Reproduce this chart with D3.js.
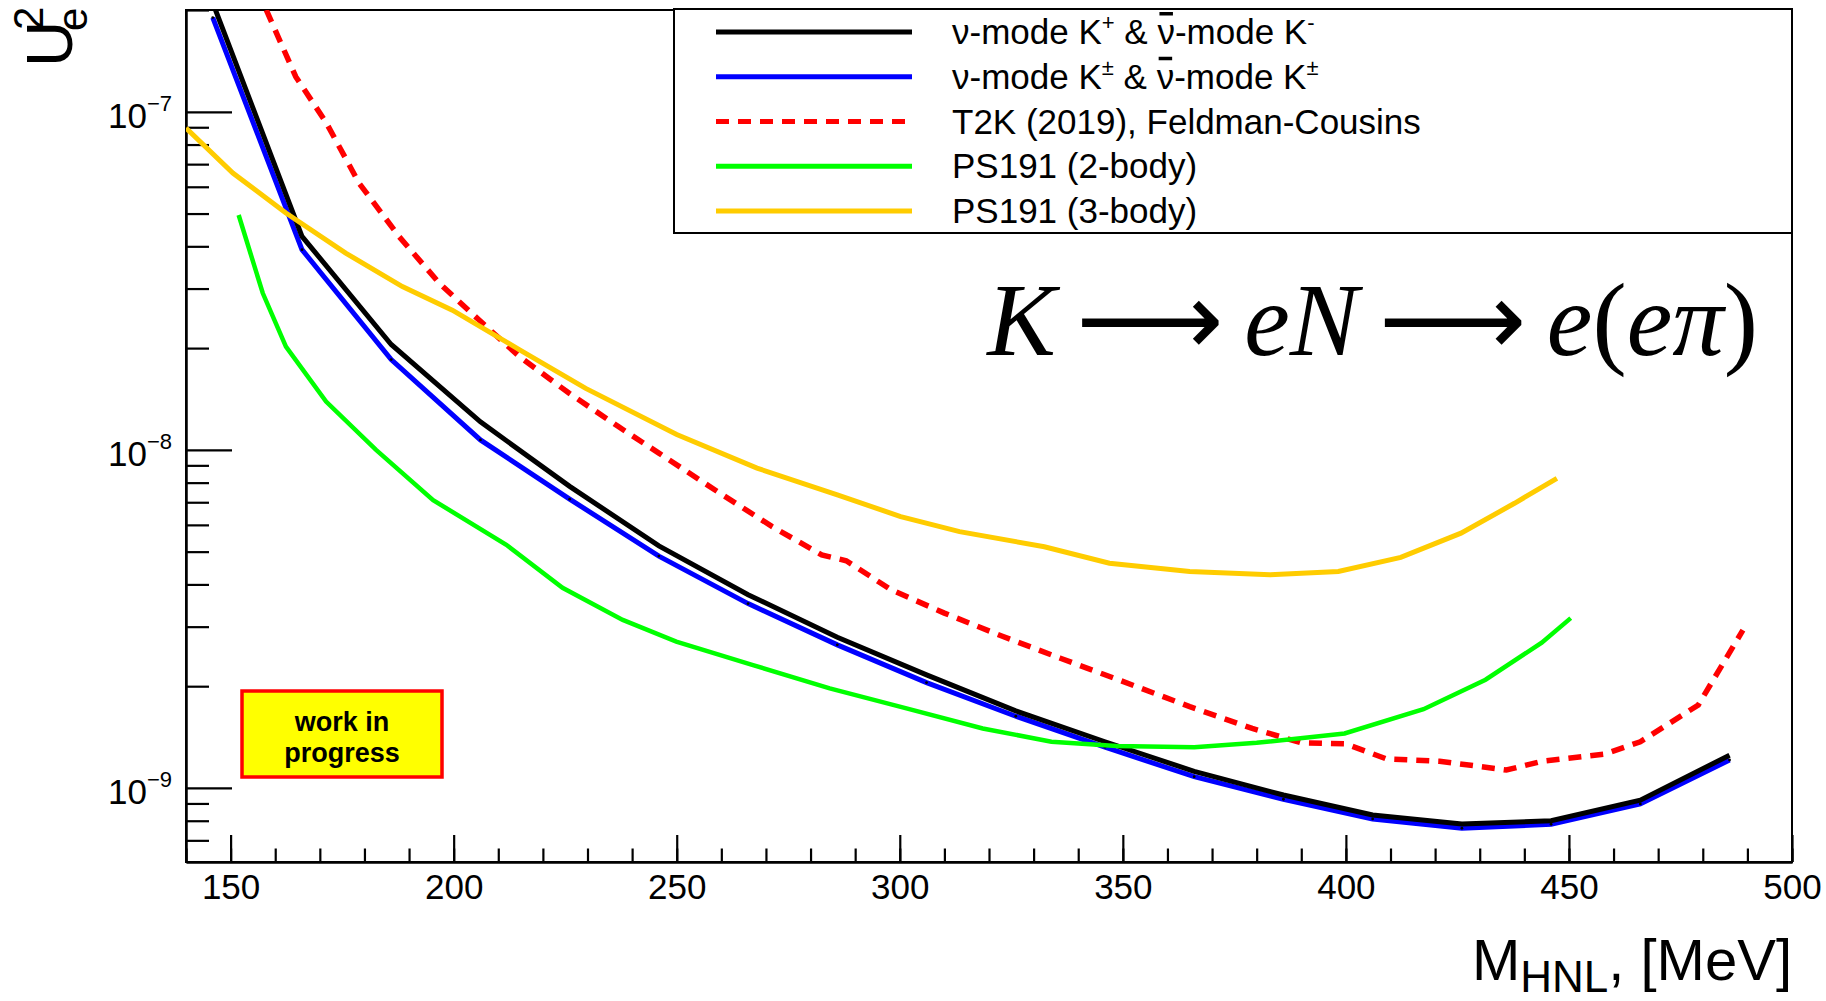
<!DOCTYPE html>
<html><head><meta charset="utf-8">
<script src="https://cdn.jsdelivr.net/npm/d3@7"></script>
<style>
body{margin:0;background:#fff}
svg{display:block}
text{font-family:"Liberation Sans",Arial,Helvetica,sans-serif;fill:#000}
</style>
</head><body>
<svg id="chart" width="1826" height="1001"></svg>
<script>
// ---------- data ----------
const massKaon = [146,166,186,206,226,246,266,286,306,326,346,366,386,406,426,446,466,486];
const limitKplusKminus = [2.1e-7,4.28e-8,2.05e-8,1.21e-8,7.8e-9,5.2e-9,3.73e-9,2.79e-9,2.16e-9,1.69e-9,1.37e-9,1.12e-9,9.53e-10,8.32e-10,7.82e-10,8.0e-10,9.2e-10,1.25e-9];
const limitKpmBoth     = [1.9e-7,3.91e-8,1.85e-8,1.07e-8,7.15e-9,4.85e-9,3.51e-9,2.65e-9,2.05e-9,1.63e-9,1.32e-9,1.08e-9,9.26e-10,8.1e-10,7.6e-10,7.81e-10,8.97e-10,1.21e-9];

const massT2K  = [158,164.6,171.4,178.8,187.8,196.8,205.7,214.7,225.9,237,246,258.5,271.4,282.5,288,298,310,323,336,349,365,379,390,400,409,421,436,444,458,466,479,489];
const limitT2K = [2.0e-7,1.27e-7,9.3e-8,6.15e-8,4.27e-8,3.11e-8,2.42e-8,1.89e-8,1.47e-8,1.17e-8,9.78e-9,7.62e-9,5.93e-9,4.89e-9,4.7e-9,3.86e-9,3.29e-9,2.81e-9,2.42e-9,2.09e-9,1.74e-9,1.5e-9,1.36e-9,1.35e-9,1.22e-9,1.2e-9,1.13e-9,1.2e-9,1.26e-9,1.37e-9,1.76e-9,2.93e-9];

const massPS191two  = [151.8,157.2,162.4,171.4,182.6,195.4,211.8,224.4,237.9,249.9,267.1,284.3,301.5,318.6,334,348.6,366,380,399.7,417.4,431.3,443.9,450.4];
const limitPS191two = [4.95e-8,2.91e-8,2.02e-8,1.39e-8,1.0e-8,7.1e-9,5.24e-9,3.91e-9,3.14e-9,2.71e-9,2.31e-9,1.97e-9,1.72e-9,1.5e-9,1.37e-9,1.33e-9,1.32e-9,1.36e-9,1.45e-9,1.71e-9,2.09e-9,2.69e-9,3.18e-9];

const massPS191three  = [140,150.5,162.4,175.8,188.5,199.7,214.7,229.6,250,268,286,300.2,313.4,332.4,347,365,383,398.3,412.3,425.8,437.8,447.3];
const limitPS191three = [8.95e-8,6.59e-8,5.02e-8,3.82e-8,3.04e-8,2.59e-8,1.98e-8,1.52e-8,1.11e-8,8.83e-9,7.36e-9,6.35e-9,5.73e-9,5.17e-9,4.62e-9,4.37e-9,4.27e-9,4.37e-9,4.81e-9,5.67e-9,6.95e-9,8.24e-9];

const xTickLabels = [150,200,250,300,350,400,450,500];
const xMinorTicks = [140,150,160,170,180,190,200,210,220,230,240,250,260,270,280,290,300,310,320,330,340,350,360,370,380,390,400,410,420,430,440,450,460,470,480,490,500];
const yMajorExponents = [-7,-8,-9];
const yMinorMantissas = [2,3,4,5,6,7,8,9];

const legendEntries = [
  {color:"#000000", dash:null, parts:[["ν-mode K"],["+","sup"],[" & "],["ν","bar"],["-mode K"],["-","sup"]]},
  {color:"#0000ff", dash:null, parts:[["ν-mode K"],["±","sup"],[" & "],["ν","bar"],["-mode K"],["±","sup"]]},
  {color:"#ff0000", dash:"13,9", parts:[["T2K (2019), Feldman-Cousins"]]},
  {color:"#00ff00", dash:null, parts:[["PS191 (2-body)"]]},
  {color:"#ffcc00", dash:null, parts:[["PS191 (3-body)"]]}
];

// ---------- layout ----------
const svg = d3.select("#chart");
const P = {left:186, right:1792, top:10, bottom:862};
const x = d3.scaleLinear().domain([140,500]).range([P.left,P.right]);
const y = d3.scaleLog().domain([6.04e-10,2.0e-7]).range([P.bottom,P.top]);

svg.append("rect").attr("width",1826).attr("height",1001).attr("fill","#fff");

svg.append("defs").append("clipPath").attr("id","plotclip")
  .append("rect").attr("x",P.left).attr("y",P.top).attr("width",P.right-P.left).attr("height",P.bottom-P.top);

// axes
function styleAxis(g){
  g.selectAll("path.domain").attr("stroke","#000").attr("stroke-width",2);
  g.selectAll(".tick line").attr("stroke","#000").attr("stroke-width",2.2);
}
const gxMinor = svg.append("g").attr("transform",`translate(0,${P.bottom})`)
  .call(d3.axisBottom(x).tickValues(xMinorTicks).tickSize(-13.5).tickSizeOuter(0).tickFormat(""));
styleAxis(gxMinor);
const gx = svg.append("g").attr("transform",`translate(0,${P.bottom})`)
  .call(d3.axisBottom(x).tickValues(xTickLabels).tickSize(-27).tickSizeOuter(0).tickPadding(12).tickFormat(d3.format("d")));
styleAxis(gx);
gx.selectAll(".tick text").attr("font-size",35).attr("fill","#000");

const yMinorVals = [];
[-10,-9,-8,-7].forEach(e=>yMinorMantissas.forEach(m=>{const v=m*Math.pow(10,e); if(v>=y.domain()[0]&&v<=y.domain()[1]) yMinorVals.push(v);}));
const gyMinor = svg.append("g").attr("transform",`translate(${P.left},0)`)
  .call(d3.axisLeft(y).tickValues(yMinorVals).tickSize(-23).tickSizeOuter(0).tickFormat(""));
styleAxis(gyMinor);
const yMajorVals = yMajorExponents.map(e=>Math.pow(10,e));
const gy = svg.append("g").attr("transform",`translate(${P.left},0)`)
  .call(d3.axisLeft(y).tickValues(yMajorVals).tickSize(-46).tickSizeOuter(0).tickFormat(""));
styleAxis(gy);

yMajorExponents.forEach(e=>{
  const t = svg.append("text").attr("x",172).attr("y",y(Math.pow(10,e))+16).attr("text-anchor","end");
  t.append("tspan").attr("font-size",35).text("10");
  t.append("tspan").attr("font-size",22).attr("dy",-17).text("\u2212"+Math.abs(e));
});

// frame
svg.append("rect").attr("x",P.left).attr("y",P.top).attr("width",P.right-P.left).attr("height",P.bottom-P.top)
  .attr("fill","none").attr("stroke","#000").attr("stroke-width",2);

// curves
const line = d3.line().x(d=>x(d[0])).y(d=>y(d[1]));
const series = [
  {m:massKaon, v:limitKpmBoth, color:"#0000ff", w:5, dash:null, dots:true},
  {m:massKaon, v:limitKplusKminus, color:"#000000", w:5, dash:null},
  {m:massT2K, v:limitT2K, color:"#ff0000", w:5.5, dash:"13,9"},
  {m:massPS191two, v:limitPS191two, color:"#00ff00", w:4.5, dash:null},
  {m:massPS191three, v:limitPS191three, color:"#ffcc00", w:5, dash:null}
];
const gData = svg.append("g").attr("clip-path","url(#plotclip)");
series.forEach(s=>{
  const pts = s.m.map((m,i)=>[m,s.v[i]]);
  gData.append("path").datum(pts).attr("d",line).attr("fill","none")
    .attr("stroke",s.color).attr("stroke-width",s.w).attr("stroke-linejoin","miter")
    .attr("stroke-dasharray",s.dash);
  if(s.dots){
    gData.selectAll(null).data(pts).enter().append("circle")
      .attr("cx",d=>x(d[0])).attr("cy",d=>y(d[1])).attr("r",1.4).attr("fill","#000");
  }
});

// legend
const L = {x:674, y:9, w:P.right-674, h:224};
svg.append("rect").attr("x",L.x).attr("y",L.y).attr("width",L.w).attr("height",L.h)
  .attr("fill","#fff").attr("stroke","#000").attr("stroke-width",2);
legendEntries.forEach((e,i)=>{
  const ly = L.y + 23 + i*44.75;
  const base = ly + 12;
  svg.append("line").attr("x1",716).attr("x2",912).attr("y1",ly).attr("y2",ly)
    .attr("stroke",e.color).attr("stroke-width",5).attr("stroke-dasharray",e.dash);
  const t = svg.append("text").attr("x",952).attr("y",base).attr("font-size",35);
  let shift = 0, idx = 0;
  const bars = [];
  e.parts.forEach(p=>{
    const ts = t.append("tspan").text(p[0]);
    if(p[1]==="sup"){ ts.attr("font-size",22).attr("dy",-14-shift); shift=-14; }
    else { if(shift!==0){ ts.attr("dy",-shift); shift=0; } }
    if(p[1]==="bar"){ bars.push(idx); }
    idx += p[0].length;
  });
  bars.forEach(ci=>{
    const ext = t.node().getExtentOfChar(ci);
    svg.append("rect").attr("x",ext.x+2).attr("width",Math.max(ext.width-4,4))
      .attr("y",base-32).attr("height",3.5).attr("fill","#000");
  });
});

// formula
const serif = "'Liberation Serif', 'Times New Roman', serif";
const ft = svg.append("text").attr("x",1758).attr("y",355).attr("text-anchor","end")
  .style("font-family",serif).attr("font-size",100);
[["K","i"],["\u2009",""],["\u27F6","a"],["\u2009",""],["eN","i"],["\u2009",""],["\u27F6","a"],["\u2009",""],["e","i"],["(",""],["eπ","i"],[")",""]].forEach(p=>{
  const ts = ft.append("tspan").text(p[0]).style("font-family",serif);
  if(p[1]==="i") ts.attr("font-style","italic");
  if(p[1]==="a") ts.style("font-family","'DejaVu Sans', sans-serif");
});
const flen = ft.node().getComputedTextLength();
ft.attr("font-size",100*771/flen);

// work in progress box
svg.append("rect").attr("x",242).attr("y",691).attr("width",200).attr("height",86)
  .attr("fill","#ffff00").attr("stroke","#ff0000").attr("stroke-width",3.5);
svg.append("text").attr("x",342).attr("y",731).attr("text-anchor","middle").attr("font-size",27).attr("font-weight","bold").text("work in");
svg.append("text").attr("x",342).attr("y",762).attr("text-anchor","middle").attr("font-size",27).attr("font-weight","bold").text("progress");

// axis titles
const xt = svg.append("text").attr("x",1792).attr("y",980).attr("text-anchor","end").attr("font-size",58);
xt.append("tspan").text("M");
xt.append("tspan").attr("font-size",44).attr("dy",12).text("HNL");
xt.append("tspan").attr("dy",-12).text(", [MeV]");

const yt = svg.append("g").attr("transform","translate(72,67) rotate(-90)");
yt.append("text").attr("x",0).attr("y",0).attr("font-size",64).text("U");
yt.append("text").attr("x",37).attr("y",-29).attr("font-size",42).text("2");
yt.append("text").attr("x",36).attr("y",15).attr("font-size",42).text("e");
</script>
</body></html>
